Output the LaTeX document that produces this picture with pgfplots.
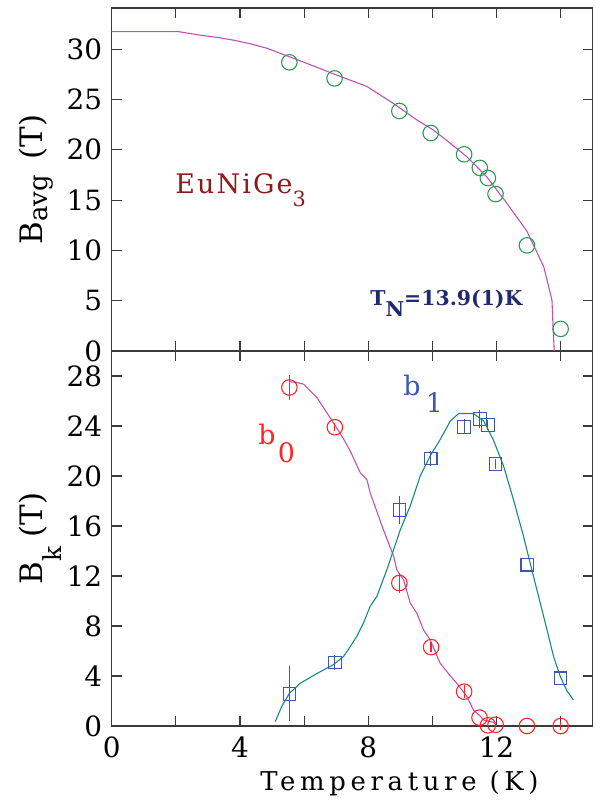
\documentclass[border=0pt]{standalone}
\usepackage{fontspec}
\setmainfont{DejaVu Serif}
\usepackage{pgfplots}
\pgfplotsset{compat=1.18}
\definecolor{axisgray}{HTML}{3A3A3A}
\definecolor{fitmag}{HTML}{C050B5}
\definecolor{fitteal}{HTML}{138A84}
\definecolor{ptgreen}{HTML}{2A9A50}
\definecolor{ptred}{HTML}{FF2424}
\definecolor{ptblue}{HTML}{3B57B0}
\definecolor{darkred}{HTML}{8B1A1A}
\definecolor{navy}{HTML}{1F2A70}
\newcommand\fs[1]{\fontsize{#1}{#1}\selectfont}

\begin{document}
\begin{tikzpicture}
\useasboundingbox (-111.7bp,-75bp) rectangle (484.3bp,726bp);
\pgfplotsset{
  panel/.style={
    scale only axis, width=481bp, xmin=0, xmax=15, clip=false,
    axis line style={axisgray, line width=1.4pt},
    tick style={axisgray, line width=1.2pt},
    tick align=inside, major tick length=10bp,
    xtick={0,2,...,14},
    tick label style={font=\fs{28}},
    xticklabel style={yshift=-7bp},
    yticklabel style={xshift=-6bp},
    /pgf/number format/assume math mode=true,
    ylabel style={font=\fs{31}, at={(axis description cs:-0.143,0.5)}, anchor=base},
  },
  fit/.style={line width=1.1pt, mark=none},
  % vertical error bars, one segment per point, broken by nan
  ebar/.style={line width=1.2pt, mark=none, unbounded coords=jump, forget plot},
}

% lower panel: b0 and b1
\begin{axis}[panel, height=375bp, ymin=0, ymax=30, ytick={0,4,...,28},
  xticklabels={0,,4,,8,,12,},
  xlabel={\addfontfeature{LetterSpace=18}Temperature (K)},
  xlabel style={font=\fs{26}, at={(axis description cs:0.598,-0.1707)}, anchor=base},
  ylabel={B\raisebox{-0.6em}{\fs{25}k}\hspace{0.3em}(T)}]
\addplot[fit, fitmag] coordinates {
  (5.56,27.53) (5.77,27.48) (5.98,27.35) (6.4,26.28) (6.91,24.27) (7.2,23.1)
  (7.44,22.0) (7.75,20.26) (7.96,19.7) (8.06,18.66) (8.47,15.72) (8.79,13.6)
  (8.89,12.5) (9.1,11.7) (9.31,9.84) (9.52,9.0) (9.72,7.7) (9.93,6.9)
  (10.24,5.03) (10.56,4.0) (10.76,3.42) (11.08,2.35) (11.28,1.28) (11.49,0.8)
  (11.6,0.48) (11.9,0.3) (12.0,0.05)};
\addplot[fit, fitteal] coordinates {
  (5.1,0.35) (5.3,1.55) (5.54,2.6) (5.88,3.42) (6.4,4.2) (6.91,4.9) (7.23,5.56)
  (7.44,6.36) (7.64,7.16) (7.85,8.23) (8.06,9.57) (8.27,10.37) (8.58,12.5)
  (8.79,14.1) (9.0,15.7) (9.31,17.6) (9.62,20.0) (9.93,21.6) (10.24,22.9)
  (10.56,24.4) (10.82,25.0) (11.28,25.0) (11.6,24.4) (11.9,22.9) (12.22,20.8)
  (12.53,18.1) (12.84,15.2) (13.15,12.0) (13.47,8.77) (13.78,5.56) (13.99,3.95)
  (14.2,2.8) (14.4,2.08)};
% b0 error bars
\addplot[ebar, ptred] coordinates {
  (5.54,26.08) (5.54,28.08) (5.54,nan)
  (6.96,23.6) (6.96,24.2) (6.96,nan)
  (8.97,10.64) (8.97,12.24) (8.97,nan)
  (9.96,5.91) (9.96,6.71) (9.96,nan)
  (10.99,2.25) (10.99,3.25) (10.99,nan)
  (14.0,-0.3) (14.0,0.3)};
% b1 error bars
\addplot[ebar, ptblue] coordinates {
  (5.54,0.37) (5.54,4.77) (5.54,nan)
  (6.96,4.48) (6.96,5.68) (6.96,nan)
  (8.97,16.17) (8.97,18.37) (8.97,nan)
  (9.95,20.8) (9.95,22.0) (9.95,nan)
  (10.99,23.32) (10.99,24.52) (10.99,nan)
  (11.48,23.86) (11.48,25.26) (11.48,nan)
  (11.73,23.68) (11.73,24.48) (11.73,nan)
  (11.97,20.56) (11.97,21.36)};
\addplot[ptred, only marks, mark=o, mark size=7.8pt, line width=1.1pt] coordinates {
  (5.54,27.08) (6.96,23.9) (8.97,11.44) (9.96,6.31) (10.99,2.75)
  (11.47,0.67) (11.73,0.05) (11.97,0.1) (12.95,0) (14.0,0)};
\addplot[ptblue, only marks, mark=square, mark size=6.3pt, line width=1.1pt] coordinates {
  (5.54,2.57) (6.96,5.08) (8.97,17.27) (9.95,21.4) (10.99,23.92)
  (11.48,24.56) (11.73,24.08) (11.97,20.96) (12.96,12.9) (14.0,3.82)};
\node[anchor=base west, text=ptred, font=\fs{27}, inner sep=0pt]
  at (axis cs:4.57,22.5) {b\hspace{0.08em}\raisebox{-0.65em}{0}};
\node[anchor=base west, text=ptblue, font=\fs{27}, inner sep=0pt]
  at (axis cs:9.09,26.4) {b\hspace{0.2em}\raisebox{-0.6em}{1}};
\end{axis}

% upper panel: average field
\begin{axis}[panel, at={(0,375bp)}, height=343bp, ymin=0, ymax=34.1,
  ytick={0,5,...,30}, xticklabels={},
  ylabel={B\raisebox{-0.15em}{\fs{26}avg}\hspace{0.5em}(T)}]
\addplot[fit, fitmag] coordinates {
  (0,31.75) (2.08,31.75) (2.76,31.4) (3.28,31.18) (3.8,30.9) (4.31,30.55)
  (4.84,30.1) (5.25,29.6) (6.08,28.6) (7.12,27.3) (7.96,26.3) (8.79,24.6)
  (9.52,22.96) (10.03,21.97) (10.56,20.65) (11.08,19.3) (11.7,17.3)
  (12.32,14.7) (12.95,11.9) (13.47,8.4) (13.73,5.07) (13.76,2.7) (13.8,0)};
\addplot[ptgreen, only marks, mark=o, mark size=7.8pt, line width=1.1pt] coordinates {
  (5.54,28.7) (6.95,27.1) (8.97,23.86) (9.95,21.67) (10.99,19.55)
  (11.48,18.2) (11.73,17.2) (11.97,15.6) (12.95,10.5) (14.0,2.2)};
\node[anchor=base west, text=darkred, font=\fs{27}, inner sep=0pt]
  at (axis cs:1.98,15.7) {\addfontfeature{LetterSpace=8}EuNiGe\raisebox{-0.5em}{\fs{21}3}};
\node[anchor=base west, text=navy, font=\fs{20.5}\bfseries, inner sep=0pt]
  at (axis cs:8.06,4.57) {T\raisebox{-0.58em}{N}=13.9(1)K};
\end{axis}
\end{tikzpicture}
\end{document}
